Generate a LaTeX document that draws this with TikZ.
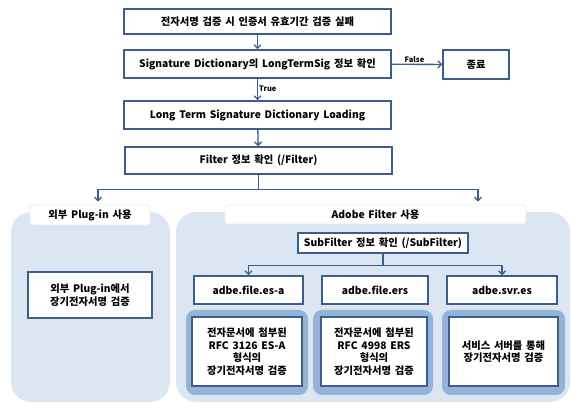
\documentclass[tikz,border=0pt]{standalone}
\usepackage{fontspec}
\setmainfont{Noto Sans CJK KR}[WordSpace=1.6]
\usepackage{xcolor}
\usepackage{tikz}
\definecolor{boxblue}{HTML}{3B5E8C}
\definecolor{panelblue}{HTML}{DCE6F2}
\definecolor{groupblue}{HTML}{95B3D7}
\definecolor{tagline}{HTML}{E6EDF6}
\usetikzlibrary{arrows.meta}
\tikzset{
	flowbox/.style={draw=boxblue, line width=1.5pt, fill=white, align=center, inner sep=0pt, font=\bfseries\fontsize{10.3}{12.5}\selectfont},
	panel/.style={fill=panelblue, rounded corners=20pt, inner sep=0pt},
	groupbg/.style={fill=groupblue, rounded corners=9pt, inner sep=0pt},
	tagbox/.style={fill=white, draw=tagline, line width=0.8pt, rounded corners=3pt, inner sep=0pt, font=\bfseries\fontsize{10.3}{12}\selectfont},
	arr/.style={draw=boxblue, line width=1.3pt, -{Straight Barb[length=3.5pt,width=7pt]}},
	lbl/.style={font=\bfseries\fontsize{7.5}{8}\selectfont, inner sep=1pt}
}

\begin{document}
\begin{tikzpicture}[x=1pt, y=-1pt]
			\useasboundingbox (0,0) rectangle (571,403);
			% background panels
			\node[panel, minimum width=159pt, minimum height=190pt] (pnlL) at (90.5,307) {};
			\node[panel, minimum width=394pt, minimum height=190pt] (pnlR) at (373,307) {};
			\node[groupbg, minimum width=122pt, minimum height=85pt] (gesa) at (247,352.5) {};
			\node[groupbg, minimum width=120pt, minimum height=85pt] (gers) at (373,352.5) {};
			\node[groupbg, minimum width=123pt, minimum height=85pt] (gsvr) at (503.5,352.5) {};
			
			% main flow
			\node[flowbox, minimum width=267pt, minimum height=25pt] (n1) at (257.5,21.5) {전자서명 검증 시 인증서 유효기간 검증 실패};
			\node[flowbox, minimum width=267pt, minimum height=28pt] (n2) at (257.5,64) {Signature Dictionary의 LongTermSig 정보 확인};
			\node[flowbox, minimum width=66pt, minimum height=29pt] (nend) at (476,64.5) {종료};
			\node[flowbox, minimum width=267pt, minimum height=28pt] (n3) at (257.5,115) {Long Term Signature Dictionary Loading};
			\node[flowbox, minimum width=267pt, minimum height=27pt] (n4) at (258.5,160.5) {Filter 정보 확인 (/Filter)};
			
			% panel titles
			\node[tagbox, minimum width=120pt, minimum height=20pt] (tagL) at (90,215) {외부 Plug-in 사용};
			\node[tagbox, minimum width=301pt, minimum height=19pt] (tagR) at (375.5,214.5) {Adobe Filter 사용};
			
			\node[flowbox, minimum width=124pt, minimum height=46pt] (plug) at (90,295) {외부 Plug-in에서\\장기전자서명 검증};
			\node[flowbox, minimum width=170pt, minimum height=20pt] (sub) at (383,243) {SubFilter 정보 확인 (/SubFilter)};
			
			\node[flowbox, minimum width=109pt, minimum height=28pt] (esa) at (248.5,290) {adbe.file.es-a};
			\node[flowbox, minimum width=106pt, minimum height=28pt] (ers) at (375,290) {adbe.file.ers};
			\node[flowbox, minimum width=110pt, minimum height=28pt] (svr) at (502,290) {adbe.svr.es};
			
			\node[flowbox, minimum width=110pt, minimum height=69pt] (resa) at (247,351.5) {전자문서에 첨부된\\RFC 3126 ES-A\\형식의\\장기전자서명 검증};
			\node[flowbox, minimum width=106pt, minimum height=69pt] (rers) at (374,351.5) {전자문서에 첨부된\\RFC 4998 ERS\\형식의\\장기전자서명 검증};
			\node[flowbox, minimum width=109pt, minimum height=69pt] (rsvr) at (503.5,351.5) {서비스 서버를 통해\\장기전자서명 검증};
			
			% connectors
			\draw[arr] (n1) -- (n2);
			\draw[arr] (n2) -- node[lbl, right, pos=0.45] {True} (n3);
			\draw[arr] (n2) -- node[lbl, above, pos=0.45] {False} (nend);
			\draw[arr] (n3) -- (n4);
			\draw[arr, shorten >=3pt] (n4.south) -- ++(0,15) -| ([xshift=8pt]tagL.north);
			\draw[arr, shorten >=3pt] (n4.south) -- ++(0,15) -| ([xshift=102.5pt]tagR.north);
			\draw[arr] (sub.south) -- ++(0,12) -| (esa.north);
			\draw[arr] (sub.south) -- ++(0,12) -| (svr.north);
			
			
			\end{tikzpicture}
\end{document}
